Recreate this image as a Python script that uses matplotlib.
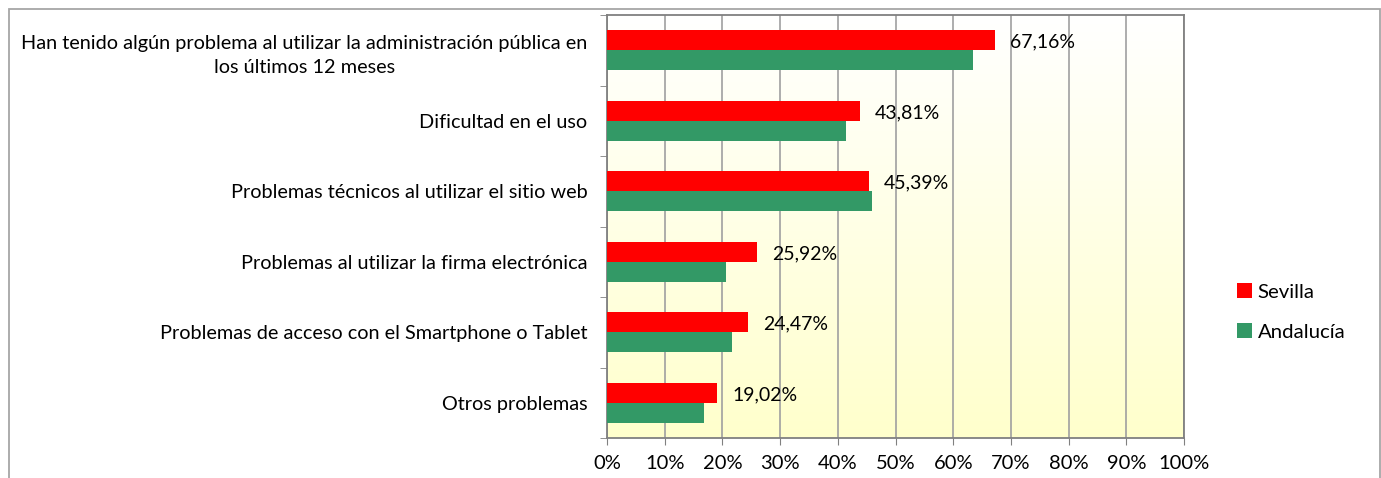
import numpy as np
import matplotlib
matplotlib.use("Agg")
import matplotlib.pyplot as plt
from matplotlib.patches import Rectangle

plt.rcParams['font.family'] = ['Lato', 'DejaVu Sans']

categories = [
    "Han tenido algún problema al utilizar la administración pública en\nlos últimos 12 meses",
    "Dificultad en el uso",
    "Problemas técnicos al utilizar el sitio web",
    "Problemas al utilizar la firma electrónica",
    "Problemas de acceso con el Smartphone o Tablet",
    "Otros problemas",
]
sevilla = [67.16, 43.81, 45.39, 25.92, 24.47, 19.02]
andalucia = [63.4, 41.4, 45.9, 20.6, 21.7, 16.8]
xticks = list(range(0, 101, 10))
xtick_labels = [f"{t}%" for t in xticks]

W, H = 1381, 478
fig = plt.figure(figsize=(W / 100, H / 100), dpi=100)
ax = fig.add_axes([607 / W, 1 - 438 / H, (1184 - 607) / W, (438 - 15) / H])

# soft white -> yellow gradient like the Excel plot area
grad = np.linspace(0, 1, 256).reshape(-1, 1)
top = np.array([1.0, 1.0, 1.0])
bot = np.array([1.0, 1.0, 0.80])
img = top + grad[..., None] * (bot - top)
ax.imshow(img, extent=[0, 100, 5.5, -0.5], aspect='auto', zorder=0)

y = np.arange(len(categories))
h = 0.284
ax.barh(y - h / 2, sevilla, height=h, color='#FF0000', label='Sevilla', zorder=3)
ax.barh(y + h / 2, andalucia, height=h, color='#339966', label='Andalucía', zorder=3)

for yi, v in zip(y, sevilla):
    ax.annotate(f"{v:.2f}%".replace('.', ','), xy=(v, yi - h / 2), xytext=(11, -1.5),
                textcoords='offset points', ha='left', va='center', fontsize=14,
                color='black', zorder=4)

ax.set_xlim(0, 100)
ax.set_ylim(5.5, -0.5)
ax.set_xticks(xticks)
ax.set_xticklabels(xtick_labels, fontsize=14.5)
ax.set_yticks(y)
ax.set_yticklabels(categories, fontsize=14.3, multialignment='center', linespacing=1.5)
ax.set_yticks(np.arange(-0.5, 6.0, 1.0), minor=True)
ax.tick_params(axis='y', which='major', length=0, pad=14)
ax.tick_params(axis='y', which='minor', length=5, color='#808080', direction='out')
ax.tick_params(axis='x', length=5, color='#808080', direction='out', pad=7)
ax.grid(axis='x', color='#A0A0A0', linewidth=1.2, zorder=1)
ax.set_axisbelow(True)
for s in ax.spines.values():
    s.set_color('#808080')
    s.set_linewidth(1.3)

leg = ax.legend(loc='center left', bbox_to_anchor=(1219 / W, 1 - 312 / H),
                bbox_transform=fig.transFigure, frameon=False, fontsize=14.7,
                handlelength=0.7, handleheight=0.7, handletextpad=0.3,
                labelspacing=1.1)

fig.patches.append(Rectangle((9 / W, -0.02), (1380 - 9) / W, 1.02 - 9 / H,
                             transform=fig.transFigure, fill=False,
                             edgecolor='#A6A6A6', linewidth=1.3))

fig.savefig('out.png', dpi=100)
